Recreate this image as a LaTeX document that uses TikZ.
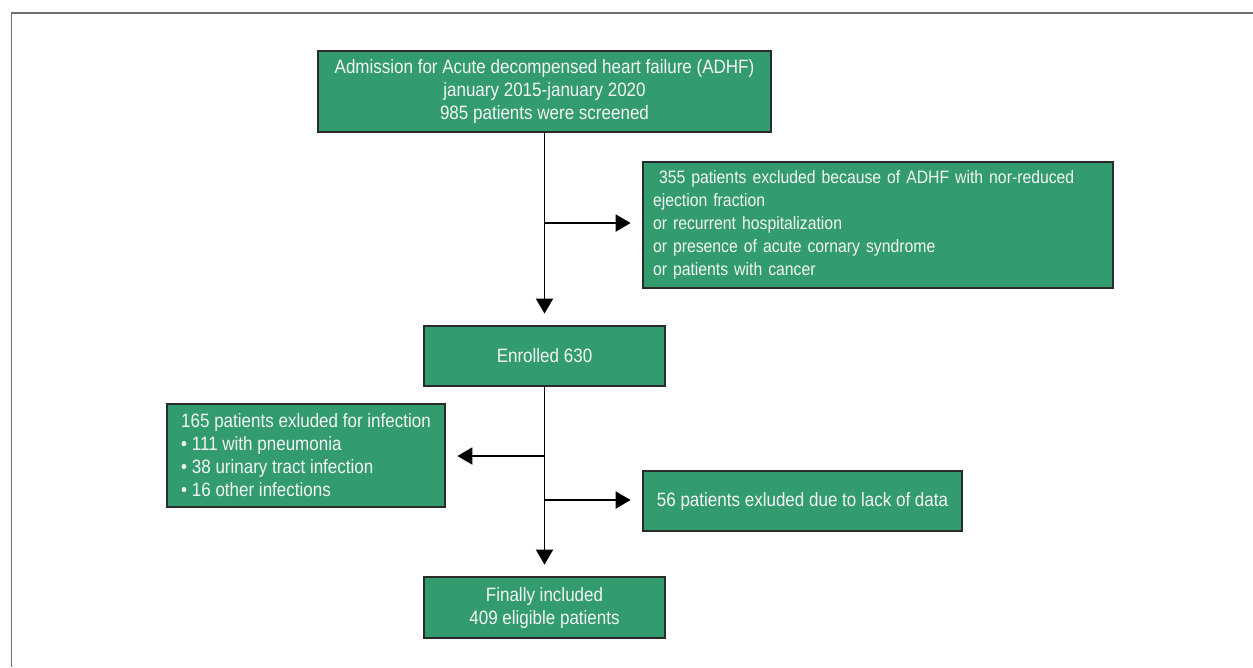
\documentclass[tikz,border=0pt]{standalone}
\usepackage{fontspec}
\setmainfont[FakeStretch=0.88]{Liberation Sans}
\usetikzlibrary{arrows.meta}
\definecolor{stepgreen}{HTML}{329C6E}
\definecolor{edge}{HTML}{2B2B2B}
\definecolor{paper}{HTML}{F4F4F4}
\definecolor{frame}{HTML}{6E6E6E}

\begin{document}
\begin{tikzpicture}[
  x=.02cm, y=-.02cm,
  font=\fontsize{11}{13.1}\selectfont,
  stage/.style={draw=edge, line width=1.6pt, fill=stepgreen, text=paper,
    align=center, inner sep=0pt},
  exclusion/.style={stage, align=left},
  flow/.style={draw=black, line width=1.1pt},
  goes/.style={flow, -{Triangle[length=.3cm,width=.34cm]}, shorten >=.22cm}
]
\useasboundingbox (0,0) rectangle (1253,667);
% only the top and left edges of the frame are drawn
\draw[frame, line width=.9pt] (1253,13) -- (11.5,13) -- (11.5,667);

\node[stage, minimum width=9.06cm, minimum height=1.62cm] (admission) at (544.5,91.5)
  {Admission for Acute decompensed heart failure (ADHF)\\
   january 2015-january 2020\\
   985 patients were screened};
\node[exclusion, minimum width=9.4cm, minimum height=2.52cm, text width=9cm,
  font=\fontsize{10.2}{13.1}\selectfont] (excluded) at (878,225)
  {\ 355 patients excluded because of ADHF with nor-reduced\\
   ejection fraction\\
   or recurrent hospitalization\\
   or presence of acute cornary syndrome\\
   or patients with cancer};
\node[stage, minimum width=4.82cm, minimum height=1.2cm] (enrolled) at (544.5,356)
  {Enrolled 630};
\node[exclusion, minimum width=5.56cm, minimum height=2.06cm] (infection) at (306,455.5)
  {165 patients exluded for infection\\
   • 111 with pneumonia\\
   • 38 urinary tract infection\\
   • 16 other infections};
\node[exclusion, minimum width=6.38cm, minimum height=1.2cm] (missing) at (802.5,501)
  {56 patients exluded due to lack of data};
\node[stage, minimum width=4.82cm, minimum height=1.22cm] (included) at (544.5,607.5)
  {Finally included\\409 eligible patients};

\coordinate (split-excluded) at (admission.south |- 0,223);
\coordinate (split-infection) at (enrolled.south |- 0,456);
\coordinate (split-missing) at (enrolled.south |- 0,500);

\draw[goes] (admission.south) -- (enrolled.north);
\draw[goes] (split-excluded) -- (excluded.west |- split-excluded);
\draw[goes] (enrolled.south) -- (included.north);
\draw[goes] (split-infection) -- (infection.east |- split-infection);
\draw[goes] (split-missing) -- (missing.west |- split-missing);
\end{tikzpicture}
\end{document}
